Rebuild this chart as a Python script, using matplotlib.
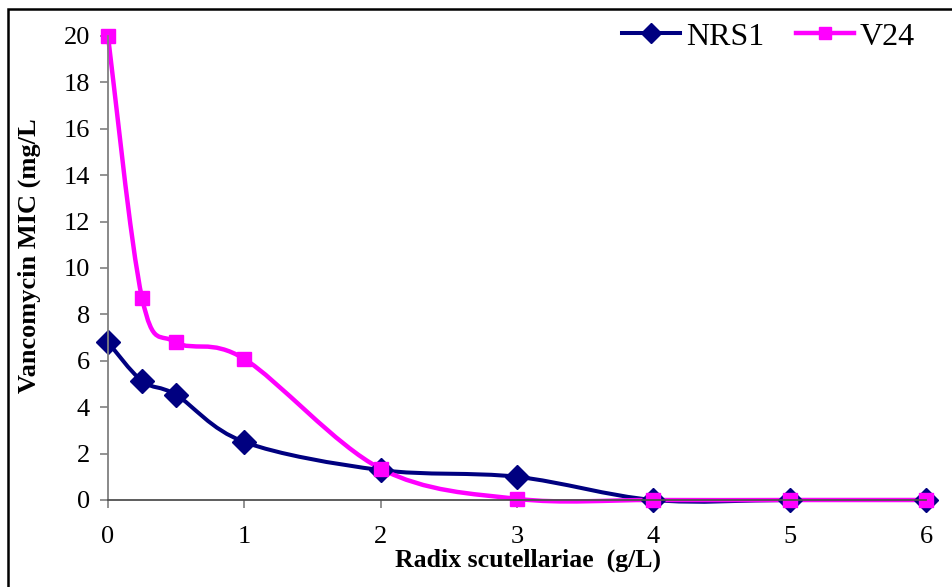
import numpy as np
import matplotlib
matplotlib.use('Agg')
import matplotlib.pyplot as plt
from matplotlib.path import Path
from matplotlib.patches import PathPatch, Rectangle
from matplotlib.lines import Line2D

plt.rcParams['font.family'] = ['Liberation Serif', 'DejaVu Serif']

# data
conc = [0, 0.25, 0.5, 1, 2, 3, 4, 5, 6]
nrs1 = [6.8, 5.13, 4.53, 2.5, 1.29, 1.0, 0, 0, 0]
v24 = [20, 8.7, 6.8, 6.08, 1.35, 0.05, 0, 0, 0]
series_names = ['NRS1', 'V24']
yticks = list(range(0, 21, 2))
xticks = [0, 1, 2, 3, 4, 5, 6]


def smooth_path(x, y):
    # Excel-like smoothed line: Catmull-Rom style cubic Bezier through the points
    pts = np.column_stack([x, y]).astype(float)
    n = len(pts)
    verts = [pts[0]]
    codes = [Path.MOVETO]
    for i in range(n - 1):
        p0 = pts[i - 1] if i > 0 else pts[i]
        p1 = pts[i]
        p2 = pts[i + 1]
        p3 = pts[i + 2] if i + 2 < n else pts[i + 1]
        c1 = p1 + (p2 - p0) / 6
        c2 = p2 - (p3 - p1) / 6
        verts += [c1, c2, p2]
        codes += [Path.CURVE4] * 3
    return Path(verts, codes)


fig = plt.figure(figsize=(9.53, 5.87), dpi=100)
ax = fig.add_axes([108 / 953, 1 - 500 / 587, 818 / 953, 464 / 587])

styles = [
    dict(color='#000080', lw=2.9, marker='D', ms=12),
    dict(color='#FF00FF', lw=3.2, marker='s', ms=9.5),
]
handles = []
for yv, st, name in zip([nrs1, v24], styles, series_names):
    ax.add_patch(PathPatch(smooth_path(conc, yv), fill=False, edgecolor=st['color'],
                           lw=st['lw'], clip_on=False, joinstyle='round', capstyle='round'))
    ax.plot(conc, yv, linestyle='none', marker=st['marker'], ms=st['ms'],
            color=st['color'], clip_on=False)
    handles.append(Line2D([], [], color=st['color'], lw=st['lw'], marker=st['marker'],
                          ms=st['ms'] * 0.85, label=name))

ax.set_xlim(0, 6)
ax.set_ylim(0, 20)
ax.set_xticks(xticks)
ax.set_yticks(yticks)
ax.spines['top'].set_visible(False)
ax.spines['right'].set_visible(False)
ax.spines['left'].set_color('#808080')
ax.spines['left'].set_linewidth(1.3)
ax.spines['bottom'].set_color('#505050')
ax.spines['bottom'].set_linewidth(1.3)
ax.tick_params(axis='y', direction='out', length=6, width=1.2, color='#808080',
               labelsize=19, pad=7)
ax.tick_params(axis='x', direction='out', length=6, width=1.2, color='#808080',
               labelsize=19, pad=13)

leg = fig.legend(handles=handles, loc='center right', bbox_to_anchor=(928 / 953, 1 - 37 / 587),
                 ncol=2, frameon=False, fontsize=23, handlelength=1.8, handletextpad=0.2,
                 columnspacing=1.0, borderaxespad=0)

fig.text(528 / 953, 1 - 567 / 587, 'Radix scutellariae  (g/L)', ha='center', va='baseline',
         fontsize=18.5, fontweight='bold')
fig.text(29 / 953, 1 - 256 / 587, 'Vancomycin MIC (mg/L', ha='center', va='center',
         rotation=90, fontsize=19, fontweight='bold')

# outer chart frame (cut off at right and bottom)
fig.patches.append(Rectangle((8 / 953, -0.2), 2, 1.2 - 9 / 587, transform=fig.transFigure,
                             fill=False, edgecolor='black', lw=1.8, clip_on=False))

fig.savefig('out.png', dpi=100)
